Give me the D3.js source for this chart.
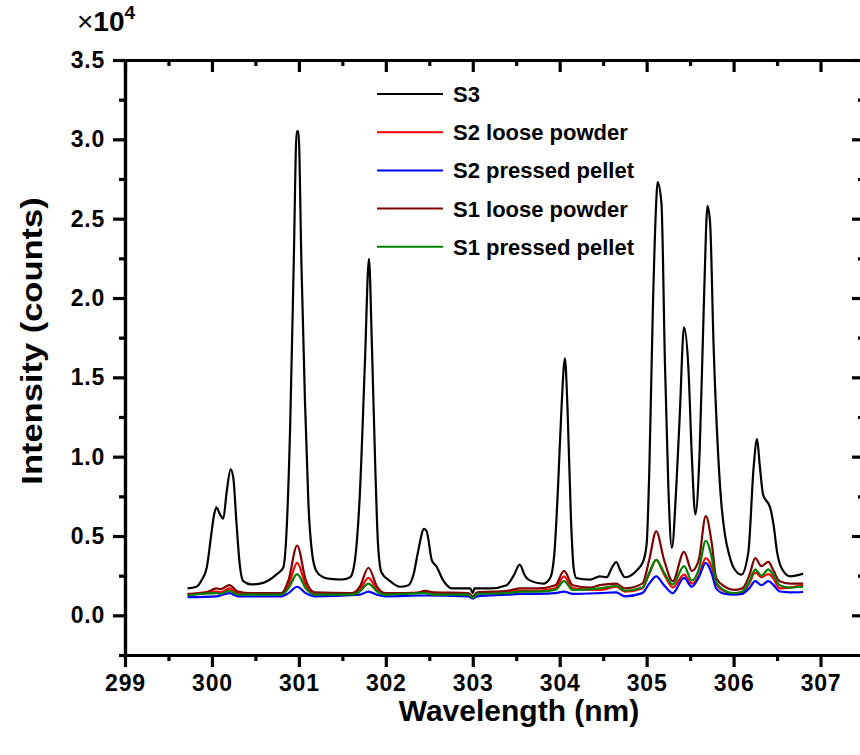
<!DOCTYPE html>
<html>
<head>
<meta charset="utf-8">
<script src="https://cdn.jsdelivr.net/npm/d3@7"></script>
<style>
  body { margin: 0; background: #fff; }
  svg text { font-family: "Liberation Sans", Arial, sans-serif; }
  .axis .domain, .axis .tick line { stroke: #000 !important; stroke-width: 3.2px !important; }
</style>
</head>
<body>
<div id="chart"></div>
<script>
// wavelength (nm), intensity (x10^4 counts)
const s3 = [[299.72,0.17],[299.82,0.18],[299.88,0.22],[299.94,0.30],[299.99,0.50],[300.02,0.62],[300.05,0.68],[300.09,0.64],[300.13,0.61],[300.17,0.78],[300.215,0.92],[300.245,0.87],[300.28,0.60],[300.32,0.32],[300.36,0.215],[300.45,0.195],[300.55,0.20],[300.65,0.22],[300.74,0.257],[300.82,0.30],[300.86,0.55],[300.9,1.2],[300.94,2.2],[300.975,3.05],[300.995,3.05],[301.03,2.2],[301.07,1.35],[301.11,0.7],[301.15,0.4],[301.2,0.28],[301.28,0.24],[301.36,0.23],[301.5,0.226],[301.59,0.24],[301.64,0.33],[301.7,0.75],[301.76,1.6],[301.806,2.247],[301.84,1.7],[301.88,0.91],[301.91,0.45],[301.95,0.27],[302.05,0.215],[302.16,0.18],[302.26,0.19],[302.32,0.26],[302.37,0.4],[302.44,0.545],[302.47,0.53],[302.53,0.345],[302.58,0.31],[302.66,0.22],[302.76,0.17],[302.97,0.17],[303.0,0.14],[303.02,0.17],[303.2,0.17],[303.39,0.19],[303.47,0.25],[303.54,0.32],[303.6,0.25],[303.64,0.225],[303.81,0.20],[303.89,0.235],[303.94,0.4],[303.98,0.8],[304.02,1.3],[304.06,1.62],[304.09,1.3],[304.13,0.6],[304.16,0.3],[304.19,0.235],[304.35,0.225],[304.46,0.246],[304.54,0.24],[304.6,0.3],[304.65,0.335],[304.7,0.28],[304.75,0.24],[304.88,0.28],[304.96,0.34],[305.0,0.45],[305.03,0.9],[305.07,1.9],[305.11,2.6],[305.125,2.73],[305.17,2.6],[305.21,1.6],[305.25,0.8],[305.29,0.425],[305.34,0.8],[305.38,1.25],[305.43,1.815],[305.48,1.56],[305.52,1.0],[305.56,0.636],[305.61,1.04],[305.66,2.0],[305.70,2.58],[305.73,2.47],[305.77,1.7],[305.82,1.04],[305.86,0.7],[305.90,0.51],[305.95,0.38],[306.0,0.30],[306.09,0.257],[306.17,0.40],[306.23,0.93],[306.27,1.11],[306.3,0.95],[306.34,0.76],[306.42,0.68],[306.46,0.57],[306.5,0.4],[306.55,0.30],[306.65,0.246],[306.8,0.263]];

const s2Loose = [[299.72,0.13],[300.05,0.15],[300.1,0.145],[300.2,0.17],[300.3,0.14],[300.8,0.135],[300.88,0.19],[300.98,0.33],[301.08,0.19],[301.18,0.135],[301.6,0.135],[301.7,0.16],[301.8,0.236],[301.9,0.16],[302.0,0.135],[302.45,0.145],[302.55,0.135],[302.95,0.135],[303.0,0.115],[303.05,0.14],[303.4,0.145],[303.55,0.155],[303.75,0.155],[303.95,0.17],[304.05,0.246],[304.15,0.17],[304.46,0.16],[304.65,0.18],[304.75,0.15],[304.95,0.17],[305.03,0.26],[305.11,0.35],[305.2,0.26],[305.3,0.175],[305.43,0.257],[305.52,0.2],[305.6,0.25],[305.68,0.36],[305.75,0.3],[305.8,0.2],[305.9,0.15],[306.0,0.135],[306.1,0.145],[306.18,0.2],[306.25,0.27],[306.32,0.24],[306.4,0.26],[306.46,0.23],[306.53,0.17],[306.65,0.175],[306.8,0.19]];

const s2Pressed = [[299.72,0.115],[300.05,0.12],[300.2,0.14],[300.3,0.12],[300.8,0.12],[300.88,0.14],[300.98,0.18],[301.08,0.14],[301.18,0.12],[301.7,0.13],[301.8,0.15],[301.9,0.13],[302.0,0.12],[302.45,0.125],[302.95,0.12],[303.0,0.105],[303.05,0.12],[303.4,0.13],[303.55,0.135],[303.75,0.135],[303.95,0.14],[304.05,0.15],[304.15,0.135],[304.46,0.14],[304.65,0.145],[304.75,0.12],[304.95,0.14],[305.03,0.2],[305.11,0.246],[305.2,0.19],[305.3,0.14],[305.43,0.236],[305.52,0.18],[305.6,0.24],[305.68,0.33],[305.75,0.26],[305.8,0.17],[305.9,0.135],[306.0,0.13],[306.1,0.135],[306.18,0.17],[306.25,0.215],[306.32,0.19],[306.4,0.215],[306.46,0.19],[306.53,0.15],[306.65,0.145],[306.8,0.147]];

const s1Loose = [[299.72,0.135],[299.9,0.14],[300.0,0.16],[300.05,0.17],[300.1,0.165],[300.2,0.19],[300.3,0.15],[300.45,0.14],[300.8,0.14],[300.88,0.22],[300.98,0.44],[301.08,0.22],[301.18,0.145],[301.6,0.14],[301.7,0.18],[301.8,0.30],[301.9,0.18],[302.0,0.14],[302.35,0.14],[302.45,0.155],[302.55,0.145],[302.95,0.14],[303.0,0.12],[303.05,0.145],[303.4,0.155],[303.55,0.17],[303.75,0.17],[303.95,0.19],[304.05,0.28],[304.15,0.19],[304.35,0.175],[304.46,0.19],[304.65,0.2],[304.75,0.17],[304.95,0.2],[305.03,0.35],[305.11,0.53],[305.2,0.35],[305.3,0.215],[305.43,0.40],[305.52,0.28],[305.6,0.35],[305.68,0.625],[305.75,0.45],[305.8,0.236],[305.9,0.18],[306.0,0.16],[306.1,0.17],[306.18,0.25],[306.25,0.36],[306.32,0.31],[306.4,0.337],[306.46,0.28],[306.53,0.215],[306.65,0.2],[306.8,0.2]];

const s1Pressed = [[299.72,0.125],[300.05,0.14],[300.1,0.135],[300.2,0.155],[300.3,0.13],[300.8,0.13],[300.88,0.17],[300.98,0.26],[301.08,0.17],[301.18,0.13],[301.6,0.13],[301.7,0.15],[301.8,0.20],[301.9,0.15],[302.0,0.13],[302.45,0.14],[302.55,0.13],[302.95,0.13],[303.0,0.11],[303.05,0.135],[303.4,0.14],[303.55,0.15],[303.75,0.15],[303.95,0.16],[304.05,0.215],[304.15,0.16],[304.46,0.17],[304.65,0.185],[304.75,0.155],[304.95,0.175],[305.03,0.27],[305.11,0.35],[305.2,0.27],[305.3,0.195],[305.43,0.31],[305.52,0.22],[305.6,0.29],[305.68,0.47],[305.75,0.36],[305.8,0.21],[305.9,0.155],[306.0,0.14],[306.1,0.15],[306.18,0.21],[306.25,0.29],[306.32,0.25],[306.4,0.29],[306.46,0.25],[306.53,0.19],[306.65,0.175],[306.8,0.18]];

const seriesNames = ["S3", "S2 loose powder", "S2 pressed pellet", "S1 loose powder", "S1 pressed pellet"];
const seriesColors = ["#000000", "#ff0000", "#0000ff", "#800000", "#008000"];
const seriesData = [s3, s2Loose, s2Pressed, s1Loose, s1Pressed];

const xTicks = [299, 300, 301, 302, 303, 304, 305, 306, 307];
const yTicks = [0, 0.5, 1.0, 1.5, 2.0, 2.5, 3.0, 3.5];

const width = 860, height = 755;
const margin = { top: 60, left: 125, right: -4, bottom: 100 };

const svg = d3.select("#chart")
  .append("svg")
  .attr("width", width)
  .attr("height", height);

const x = d3.scaleLinear().domain([299, 307.5]).range([margin.left, width - margin.right]);
const y = d3.scaleLinear().domain([-0.25, 3.5]).range([height - margin.bottom, margin.top]);

const xMinor = d3.range(299.5, 307.5, 1);
const yMinor = d3.range(-0.25, 3.5, 0.5);

function styleAxis(g) {
  g.attr("class", "axis");
  g.selectAll("text")
    .attr("font-size", 23)
    .attr("font-weight", "bold")
    .attr("letter-spacing", 0.8)
    .attr("font-family", "'Liberation Sans', Arial, sans-serif")
    .attr("fill", "#000");
}

// bottom
svg.append("g")
  .attr("transform", `translate(0, ${y(-0.25)})`)
  .call(d3.axisBottom(x).tickValues(xMinor).tickSize(6).tickSizeOuter(0).tickFormat(""))
  .call(styleAxis);
svg.append("g")
  .attr("transform", `translate(0, ${y(-0.25)})`)
  .call(d3.axisBottom(x).tickValues(xTicks).tickSize(12).tickSizeOuter(0).tickPadding(8).tickFormat(d3.format("d")))
  .call(styleAxis);

// top
svg.append("g")
  .attr("transform", `translate(0, ${y(3.5)})`)
  .call(d3.axisTop(x).tickValues(xMinor).tickSize(-6).tickSizeOuter(0).tickFormat(""))
  .call(styleAxis);
svg.append("g")
  .attr("transform", `translate(0, ${y(3.5)})`)
  .call(d3.axisTop(x).tickValues(xTicks).tickSize(-12).tickSizeOuter(0).tickFormat(""))
  .call(styleAxis);

// left
svg.append("g")
  .attr("transform", `translate(${x(299)}, 0)`)
  .call(d3.axisLeft(y).tickValues(yMinor).tickSize(6).tickSizeOuter(0).tickFormat(""))
  .call(styleAxis);
svg.append("g")
  .attr("transform", `translate(${x(299)}, 0)`)
  .call(d3.axisLeft(y).tickValues(yTicks).tickSize(12).tickSizeOuter(0).tickPadding(8).tickFormat(d3.format(".1f")))
  .call(styleAxis);

// right
svg.append("g")
  .attr("transform", `translate(${x(307.5)}, 0)`)
  .call(d3.axisRight(y).tickValues(yMinor).tickSize(-6).tickSizeOuter(0).tickFormat(""))
  .call(styleAxis);
svg.append("g")
  .attr("transform", `translate(${x(307.5)}, 0)`)
  .call(d3.axisRight(y).tickValues(yTicks).tickSize(-12).tickSizeOuter(0).tickFormat(""))
  .call(styleAxis);

// lines
const line = d3.line()
  .curve(d3.curveMonotoneX)
  .x(d => x(d[0]))
  .y(d => y(d[1]));

seriesData.forEach((data, i) => {
  svg.append("path")
    .datum(data)
    .attr("d", line)
    .attr("fill", "none")
    .attr("stroke", seriesColors[i])
    .attr("stroke-width", 2.2)
    .attr("stroke-linejoin", "round");
});

// legend
const legend = svg.append("g").attr("transform", "translate(377, 94)");
seriesNames.forEach((name, i) => {
  const row = legend.append("g").attr("transform", `translate(0, ${i * 38.2})`);
  row.append("line")
    .attr("x1", 0).attr("x2", 66)
    .attr("y1", 0).attr("y2", 0)
    .attr("stroke", seriesColors[i])
    .attr("stroke-width", 2);
  row.append("text")
    .attr("x", 76).attr("y", 8)
    .attr("font-size", 22)
    .attr("font-weight", "bold")
    .text(name);
});

// multiplier
const mult = svg.append("text")
  .attr("x", 77).attr("y", 31)
  .attr("font-size", 28);
mult.append("tspan").text("\u00d7");
mult.append("tspan").attr("font-weight", "bold").text("10");
mult.append("tspan").attr("font-weight", "bold").attr("font-size", 19).attr("dy", -12).text("4");

// axis titles
svg.append("text")
  .attr("x", 519)
  .attr("y", 721)
  .attr("text-anchor", "middle")
  .attr("font-size", 30)
  .attr("font-weight", "bold")
  .text("Wavelength (nm)");

svg.append("text")
  .attr("transform", `translate(42, 341) rotate(-90) scale(1.15, 1)`)
  .attr("text-anchor", "middle")
  .attr("font-size", 30)
  .attr("font-weight", "bold")
  .text("Intensity (counts)");
</script>
</body>
</html>
